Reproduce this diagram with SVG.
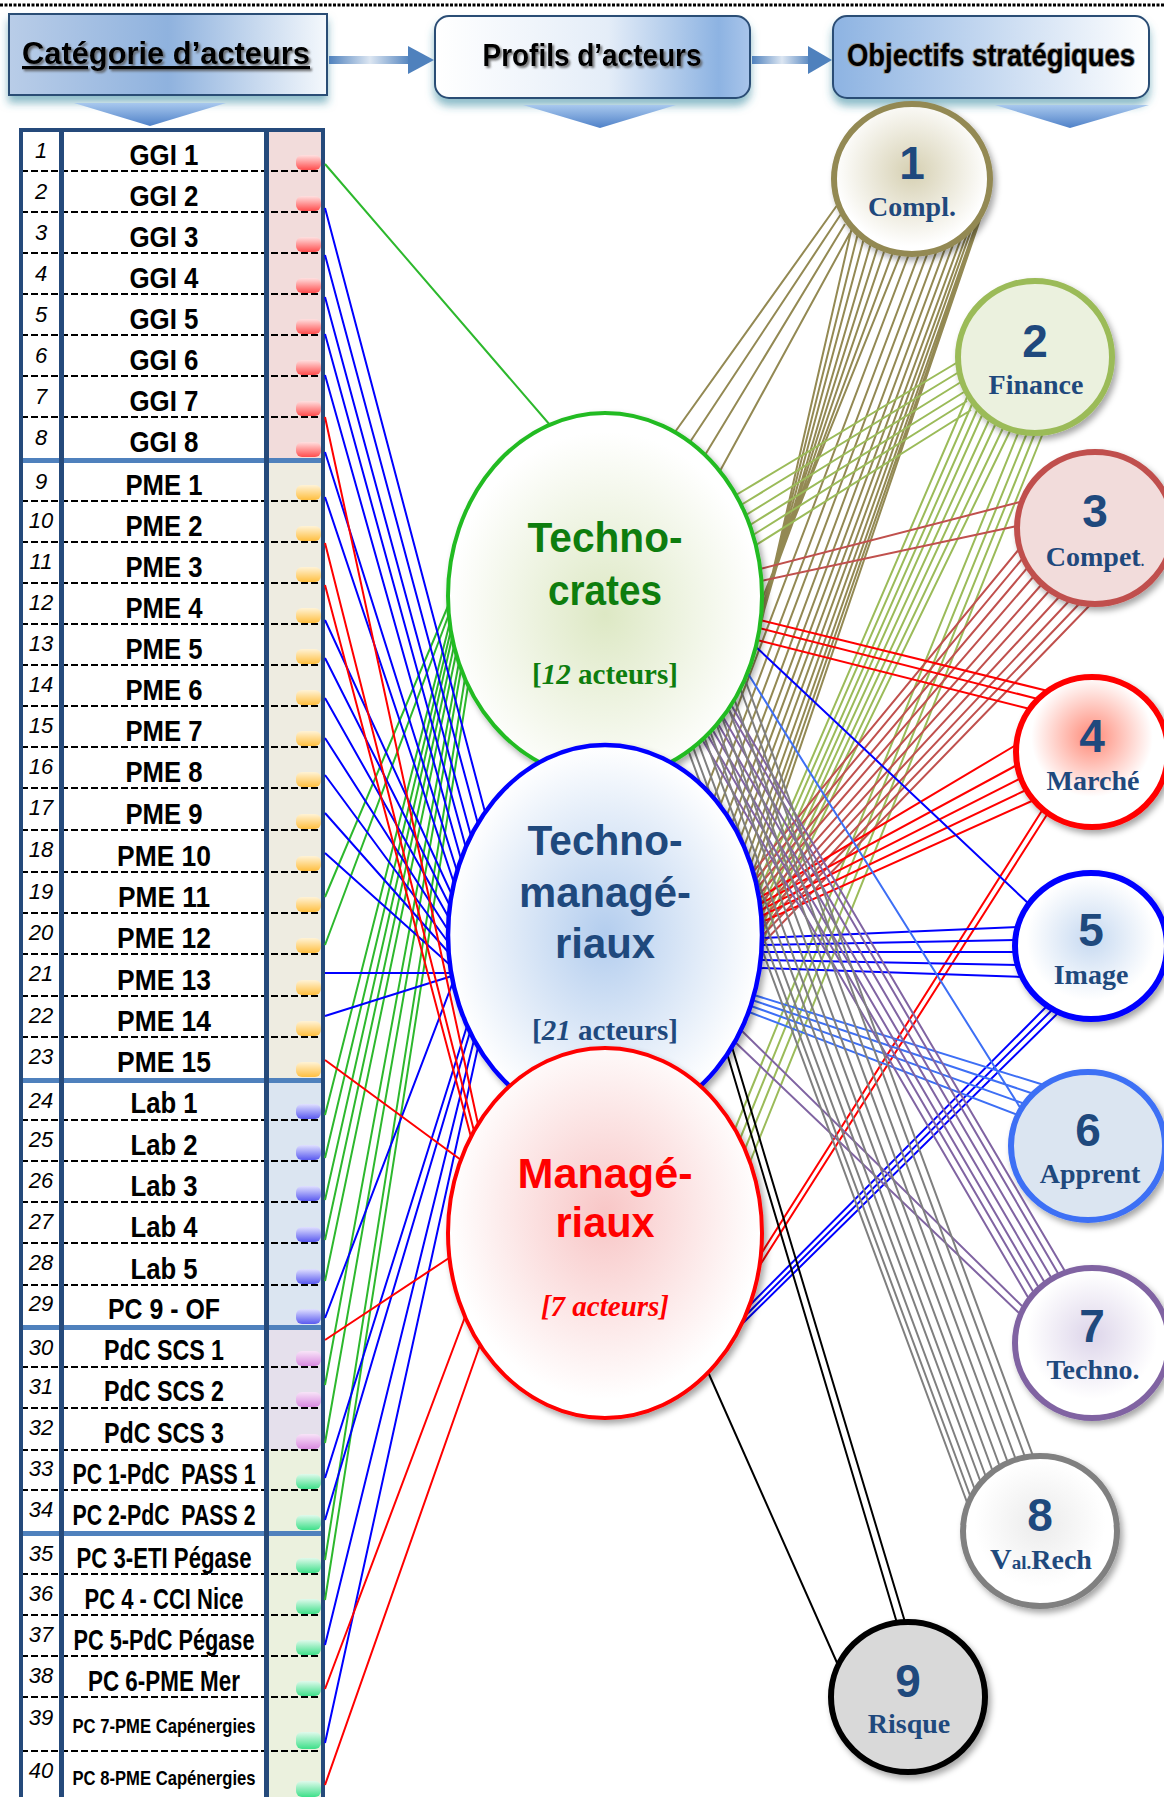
<svg xmlns="http://www.w3.org/2000/svg" width="1164" height="1797" viewBox="0 0 1164 1797">
<defs>
<style>
.num{font-family:"Liberation Sans",Arial,sans-serif;font-style:italic;font-size:22px;fill:#000;text-anchor:middle}
.nm{font-family:"Liberation Sans",Arial,sans-serif;font-weight:bold;font-size:30px;fill:#000;text-anchor:middle}
.sm{font-size:21px}
.dash{stroke:#000;stroke-width:2;stroke-dasharray:7 3}
.sep{fill:#4f81bd}
.hd{font-family:"Liberation Sans",Arial,sans-serif;font-weight:bold;font-size:32px;fill:#000;text-anchor:middle}
.cn path{fill:none;stroke-width:2}
.g{stroke:#2db82d}.b{stroke:#0000ff}.r{stroke:#ff0000}
.ol{stroke:#938953}.fi{stroke:#9bbb59}.co{stroke:#c0504d}.ma{stroke:#ff0000}.im{stroke:#0000ff}.ap{stroke:#3d6ff5}.te{stroke:#8064a2}.va{stroke:#7f7f7f}.ri{stroke:#000}
.onum{font-family:"Liberation Sans",Arial,sans-serif;font-weight:bold;font-size:46px;fill:#1f497d;text-anchor:middle}
.olab{font-family:"Liberation Serif","Times New Roman",serif;font-weight:bold;font-size:28px;fill:#1f497d;text-anchor:middle}
.pt{font-family:"Liberation Sans",Arial,sans-serif;font-weight:bold;font-size:42px;text-anchor:middle}
.pa{font-family:"Liberation Serif","Times New Roman",serif;font-weight:bold;font-size:29px;text-anchor:middle}
</style>
<linearGradient id="h1" x1="0" y1="0" x2="1" y2="0"><stop offset="0" stop-color="#b9cde8"/><stop offset="0.5" stop-color="#8fb2de"/><stop offset="1" stop-color="#f4f8fc"/></linearGradient>
<linearGradient id="h2" x1="0" y1="0" x2="1" y2="0"><stop offset="0" stop-color="#ffffff"/><stop offset="0.55" stop-color="#e4edf8"/><stop offset="0.9" stop-color="#8db3e2"/><stop offset="1" stop-color="#a9c5ea"/></linearGradient>
<linearGradient id="h3" x1="0" y1="0" x2="1" y2="0"><stop offset="0" stop-color="#8db3e2"/><stop offset="1" stop-color="#ffffff"/></linearGradient>
<linearGradient id="chev" x1="0" y1="0" x2="0" y2="1"><stop offset="0" stop-color="#a8c8ee"/><stop offset="1" stop-color="#4f81c8"/></linearGradient>
<linearGradient id="shaft" x1="0" y1="0" x2="1" y2="0"><stop offset="0" stop-color="#4f81bd"/><stop offset="0.5" stop-color="#dce6f2"/><stop offset="1" stop-color="#4f81bd"/></linearGradient>
<linearGradient id="tR" x1="0" y1="0" x2="0" y2="1"><stop offset="0" stop-color="#ffe0e0"/><stop offset="1" stop-color="#ff4d4d"/></linearGradient>
<linearGradient id="tO" x1="0" y1="0" x2="0" y2="1"><stop offset="0" stop-color="#fff3d6"/><stop offset="1" stop-color="#ffbf40"/></linearGradient>
<linearGradient id="tB" x1="0" y1="0" x2="0" y2="1"><stop offset="0" stop-color="#e0e0ff"/><stop offset="1" stop-color="#5a5af0"/></linearGradient>
<linearGradient id="tP" x1="0" y1="0" x2="0" y2="1"><stop offset="0" stop-color="#f8e4f8"/><stop offset="1" stop-color="#d98ae0"/></linearGradient>
<linearGradient id="tG" x1="0" y1="0" x2="0" y2="1"><stop offset="0" stop-color="#e0faec"/><stop offset="1" stop-color="#3ee08a"/></linearGradient>
<radialGradient id="gTech" cx="50%" cy="55%" r="50%"><stop offset="0" stop-color="#dde8c4"/><stop offset="1" stop-color="#ffffff"/></radialGradient>
<radialGradient id="gTM" cx="50%" cy="50%" r="50%"><stop offset="0" stop-color="#b3cdee"/><stop offset="1" stop-color="#ffffff"/></radialGradient>
<radialGradient id="gMg" cx="50%" cy="45%" r="50%"><stop offset="0" stop-color="#f8c6c6"/><stop offset="1" stop-color="#ffffff"/></radialGradient>
<radialGradient id="c1" cx="50%" cy="45%" r="50%"><stop offset="0" stop-color="#d6d0b2"/><stop offset="1" stop-color="#ffffff"/></radialGradient>
<radialGradient id="c4" cx="50%" cy="40%" r="50%"><stop offset="0" stop-color="#ff8a78"/><stop offset="0.8" stop-color="#ffffff"/></radialGradient>
<radialGradient id="c5" cx="50%" cy="45%" r="50%"><stop offset="0" stop-color="#c6d9f1"/><stop offset="0.85" stop-color="#ffffff"/></radialGradient>
<radialGradient id="c7" cx="50%" cy="45%" r="50%"><stop offset="0" stop-color="#ddd5ea"/><stop offset="0.85" stop-color="#ffffff"/></radialGradient>
<radialGradient id="c8" cx="50%" cy="45%" r="50%"><stop offset="0" stop-color="#ebebeb"/><stop offset="0.85" stop-color="#ffffff"/></radialGradient>
<filter id="sh" x="-20%" y="-20%" width="140%" height="140%"><feDropShadow dx="3" dy="4" stdDeviation="3" flood-color="#000" flood-opacity="0.35"/></filter>
<filter id="hsh" x="-10%" y="-20%" width="120%" height="160%"><feDropShadow dx="0" dy="7" stdDeviation="4" flood-color="#31859c" flood-opacity="0.55"/></filter>
<filter id="tsh" x="-10%" y="-50%" width="120%" height="200%"><feDropShadow dx="2" dy="2" stdDeviation="1" flood-color="#555" flood-opacity="0.8"/></filter>
</defs>
<rect width="1164" height="1797" fill="#ffffff"/>
<line x1="0" y1="5" x2="1164" y2="5" stroke="#000" stroke-width="3" stroke-dasharray="3 1.5"/>

<g id="header">
<g id="hdr-categorie">
<rect x="9" y="14" width="318" height="81" fill="url(#h1)" stroke="#2c4d75" stroke-width="2" filter="url(#hsh)"/>
<text class="hd" x="166" y="64" textLength="288" lengthAdjust="spacingAndGlyphs" text-decoration="underline" filter="url(#tsh)">Catégorie d’acteurs</text>
<polygon points="74,103 226,103 150,126" fill="url(#chev)"/>
</g>
<g id="hdr-profils">
<rect x="435" y="16" width="315" height="82" rx="14" fill="url(#h2)" stroke="#2c4d75" stroke-width="2" filter="url(#hsh)"/>
<text class="hd" x="592" y="66" textLength="219" lengthAdjust="spacingAndGlyphs" filter="url(#tsh)">Profils d’acteurs</text>
<polygon points="523,105 676,105 600,128" fill="url(#chev)"/>
</g>
<g id="hdr-objectifs">
<rect x="833" y="16" width="316" height="82" rx="14" fill="url(#h3)" stroke="#2c4d75" stroke-width="2" filter="url(#hsh)"/>
<text class="hd" x="991" y="66" font-size="29" textLength="288" lengthAdjust="spacingAndGlyphs" style="paint-order:stroke" stroke="#9a9a9a" stroke-width="2">Objectifs stratégiques</text>
<polygon points="995,105 1149,105 1070,128" fill="url(#chev)"/>
</g>
<g id="hdr-arrows">
<rect x="329" y="56" width="82" height="8" fill="url(#shaft)"/>
<polygon points="408,46 434,60 408,74" fill="#4f81bd"/>
<rect x="752" y="56" width="60" height="8" fill="url(#shaft)"/>
<polygon points="808,46 832,60 808,74" fill="#4f81bd"/>
</g>
</g>

<g id="table">
<rect x="268" y="130" width="53" height="330" fill="#f2dcdb"/>
<rect x="268" y="460" width="53" height="620" fill="#eeece1"/>
<rect x="268" y="1080" width="53" height="247" fill="#dbe5f1"/>
<rect x="268" y="1327" width="53" height="123" fill="#e5e0ec"/>
<rect x="268" y="1450" width="53" height="350" fill="#ebf1de"/>
<g id="tabs">
<rect x="296" y="155" width="25" height="15" rx="6" fill="url(#tR)"/>
<rect x="296" y="196" width="25" height="15" rx="6" fill="url(#tR)"/>
<rect x="296" y="237" width="25" height="15" rx="6" fill="url(#tR)"/>
<rect x="296" y="278" width="25" height="15" rx="6" fill="url(#tR)"/>
<rect x="296" y="319" width="25" height="15" rx="6" fill="url(#tR)"/>
<rect x="296" y="360" width="25" height="15" rx="6" fill="url(#tR)"/>
<rect x="296" y="401" width="25" height="15" rx="6" fill="url(#tR)"/>
<rect x="296" y="442" width="25" height="15" rx="6" fill="url(#tR)"/>
<rect x="296" y="485" width="25" height="15" rx="6" fill="url(#tO)"/>
<rect x="296" y="526" width="25" height="15" rx="6" fill="url(#tO)"/>
<rect x="296" y="567" width="25" height="15" rx="6" fill="url(#tO)"/>
<rect x="296" y="608" width="25" height="15" rx="6" fill="url(#tO)"/>
<rect x="296" y="649" width="25" height="15" rx="6" fill="url(#tO)"/>
<rect x="296" y="690" width="25" height="15" rx="6" fill="url(#tO)"/>
<rect x="296" y="731" width="25" height="15" rx="6" fill="url(#tO)"/>
<rect x="296" y="772" width="25" height="15" rx="6" fill="url(#tO)"/>
<rect x="296" y="814" width="25" height="15" rx="6" fill="url(#tO)"/>
<rect x="296" y="856" width="25" height="15" rx="6" fill="url(#tO)"/>
<rect x="296" y="897" width="25" height="15" rx="6" fill="url(#tO)"/>
<rect x="296" y="938" width="25" height="15" rx="6" fill="url(#tO)"/>
<rect x="296" y="980" width="25" height="15" rx="6" fill="url(#tO)"/>
<rect x="296" y="1021" width="25" height="15" rx="6" fill="url(#tO)"/>
<rect x="296" y="1062" width="25" height="15" rx="6" fill="url(#tO)"/>
<rect x="296" y="1104" width="25" height="15" rx="6" fill="url(#tB)"/>
<rect x="296" y="1145" width="25" height="15" rx="6" fill="url(#tB)"/>
<rect x="296" y="1186" width="25" height="15" rx="6" fill="url(#tB)"/>
<rect x="296" y="1227" width="25" height="15" rx="6" fill="url(#tB)"/>
<rect x="296" y="1269" width="25" height="15" rx="6" fill="url(#tB)"/>
<rect x="296" y="1309" width="25" height="15" rx="6" fill="url(#tB)"/>
<rect x="296" y="1351" width="25" height="15" rx="6" fill="url(#tP)"/>
<rect x="296" y="1392" width="25" height="15" rx="6" fill="url(#tP)"/>
<rect x="296" y="1434" width="25" height="15" rx="6" fill="url(#tP)"/>
<rect x="296" y="1474" width="25" height="15" rx="6" fill="url(#tG)"/>
<rect x="296" y="1515" width="25" height="15" rx="6" fill="url(#tG)"/>
<rect x="296" y="1558" width="25" height="15" rx="6" fill="url(#tG)"/>
<rect x="296" y="1599" width="25" height="15" rx="6" fill="url(#tG)"/>
<rect x="296" y="1640" width="25" height="15" rx="6" fill="url(#tG)"/>
<rect x="296" y="1681" width="25" height="15" rx="6" fill="url(#tG)"/>
<rect x="296" y="1732" width="25" height="17" rx="6" fill="url(#tG)"/>
<rect x="296" y="1781" width="25" height="16" rx="6" fill="url(#tG)"/>
</g>
<g id="row-lines">
<path class="dash" d="M21,171H323M21,212H323M21,253H323M21,294H323M21,335H323M21,376H323M21,417H323M21,501H323M21,542H323M21,583H323M21,624H323M21,665H323M21,706H323M21,747H323M21,788H323M21,830H323M21,872H323M21,913H323M21,954H323M21,996H323M21,1037H323M21,1120H323M21,1161H323M21,1202H323M21,1243H323M21,1285H323M21,1367H323M21,1408H323M21,1450H323M21,1490H323M21,1574H323M21,1615H323M21,1656H323M21,1697H323M21,1751H323"/>
<rect class="sep" x="21" y="458" width="302" height="5"/>
<rect class="sep" x="21" y="1078" width="302" height="5"/>
<rect class="sep" x="21" y="1325" width="302" height="5"/>
<rect class="sep" x="21" y="1531" width="302" height="5"/>
<rect x="59" y="130" width="5" height="1670" fill="#254a7b"/>
<rect x="264" y="130" width="5" height="1670" fill="#254a7b"/>
<rect x="21" y="130" width="302" height="1675" fill="none" stroke="#254a7b" stroke-width="4"/>
</g>
<g id="row-1"><text class="num" x="41" y="158">1</text><text class="nm" x="164" y="165" textLength="69" lengthAdjust="spacingAndGlyphs">GGI 1</text></g>
<g id="row-2"><text class="num" x="41" y="199">2</text><text class="nm" x="164" y="206" textLength="69" lengthAdjust="spacingAndGlyphs">GGI 2</text></g>
<g id="row-3"><text class="num" x="41" y="240">3</text><text class="nm" x="164" y="247" textLength="69" lengthAdjust="spacingAndGlyphs">GGI 3</text></g>
<g id="row-4"><text class="num" x="41" y="281">4</text><text class="nm" x="164" y="288" textLength="69" lengthAdjust="spacingAndGlyphs">GGI 4</text></g>
<g id="row-5"><text class="num" x="41" y="322">5</text><text class="nm" x="164" y="329" textLength="69" lengthAdjust="spacingAndGlyphs">GGI 5</text></g>
<g id="row-6"><text class="num" x="41" y="363">6</text><text class="nm" x="164" y="370" textLength="69" lengthAdjust="spacingAndGlyphs">GGI 6</text></g>
<g id="row-7"><text class="num" x="41" y="404">7</text><text class="nm" x="164" y="411" textLength="69" lengthAdjust="spacingAndGlyphs">GGI 7</text></g>
<g id="row-8"><text class="num" x="41" y="445">8</text><text class="nm" x="164" y="452" textLength="69" lengthAdjust="spacingAndGlyphs">GGI 8</text></g>
<g id="row-9"><text class="num" x="41" y="489">9</text><text class="nm" x="164" y="495" textLength="77" lengthAdjust="spacingAndGlyphs">PME 1</text></g>
<g id="row-10"><text class="num" x="41" y="528">10</text><text class="nm" x="164" y="536" textLength="77" lengthAdjust="spacingAndGlyphs">PME 2</text></g>
<g id="row-11"><text class="num" x="41" y="569">11</text><text class="nm" x="164" y="577" textLength="77" lengthAdjust="spacingAndGlyphs">PME 3</text></g>
<g id="row-12"><text class="num" x="41" y="610">12</text><text class="nm" x="164" y="618" textLength="77" lengthAdjust="spacingAndGlyphs">PME 4</text></g>
<g id="row-13"><text class="num" x="41" y="651">13</text><text class="nm" x="164" y="659" textLength="77" lengthAdjust="spacingAndGlyphs">PME 5</text></g>
<g id="row-14"><text class="num" x="41" y="692">14</text><text class="nm" x="164" y="700" textLength="77" lengthAdjust="spacingAndGlyphs">PME 6</text></g>
<g id="row-15"><text class="num" x="41" y="733">15</text><text class="nm" x="164" y="741" textLength="77" lengthAdjust="spacingAndGlyphs">PME 7</text></g>
<g id="row-16"><text class="num" x="41" y="774">16</text><text class="nm" x="164" y="782" textLength="77" lengthAdjust="spacingAndGlyphs">PME 8</text></g>
<g id="row-17"><text class="num" x="41" y="815">17</text><text class="nm" x="164" y="824" textLength="77" lengthAdjust="spacingAndGlyphs">PME 9</text></g>
<g id="row-18"><text class="num" x="41" y="857">18</text><text class="nm" x="164" y="866" textLength="94" lengthAdjust="spacingAndGlyphs">PME 10</text></g>
<g id="row-19"><text class="num" x="41" y="899">19</text><text class="nm" x="164" y="907" textLength="92" lengthAdjust="spacingAndGlyphs">PME 11</text></g>
<g id="row-20"><text class="num" x="41" y="940">20</text><text class="nm" x="164" y="948" textLength="94" lengthAdjust="spacingAndGlyphs">PME 12</text></g>
<g id="row-21"><text class="num" x="41" y="981">21</text><text class="nm" x="164" y="990" textLength="94" lengthAdjust="spacingAndGlyphs">PME 13</text></g>
<g id="row-22"><text class="num" x="41" y="1023">22</text><text class="nm" x="164" y="1031" textLength="94" lengthAdjust="spacingAndGlyphs">PME 14</text></g>
<g id="row-23"><text class="num" x="41" y="1064">23</text><text class="nm" x="164" y="1072" textLength="94" lengthAdjust="spacingAndGlyphs">PME 15</text></g>
<g id="row-24"><text class="num" x="41" y="1108">24</text><text class="nm" x="164" y="1113" textLength="67" lengthAdjust="spacingAndGlyphs">Lab 1</text></g>
<g id="row-25"><text class="num" x="41" y="1147">25</text><text class="nm" x="164" y="1155" textLength="67" lengthAdjust="spacingAndGlyphs">Lab 2</text></g>
<g id="row-26"><text class="num" x="41" y="1188">26</text><text class="nm" x="164" y="1196" textLength="67" lengthAdjust="spacingAndGlyphs">Lab 3</text></g>
<g id="row-27"><text class="num" x="41" y="1229">27</text><text class="nm" x="164" y="1237" textLength="67" lengthAdjust="spacingAndGlyphs">Lab 4</text></g>
<g id="row-28"><text class="num" x="41" y="1270">28</text><text class="nm" x="164" y="1279" textLength="67" lengthAdjust="spacingAndGlyphs">Lab 5</text></g>
<g id="row-29"><text class="num" x="41" y="1311">29</text><text class="nm" x="164" y="1319" textLength="112" lengthAdjust="spacingAndGlyphs">PC 9 - OF</text></g>
<g id="row-30"><text class="num" x="41" y="1355">30</text><text class="nm" x="164" y="1360" textLength="120" lengthAdjust="spacingAndGlyphs">PdC SCS 1</text></g>
<g id="row-31"><text class="num" x="41" y="1394">31</text><text class="nm" x="164" y="1401" textLength="120" lengthAdjust="spacingAndGlyphs">PdC SCS 2</text></g>
<g id="row-32"><text class="num" x="41" y="1435">32</text><text class="nm" x="164" y="1443" textLength="120" lengthAdjust="spacingAndGlyphs">PdC SCS 3</text></g>
<g id="row-33"><text class="num" x="41" y="1476">33</text><text class="nm" x="164" y="1484" textLength="183" lengthAdjust="spacingAndGlyphs">PC 1-PdC&#160; PASS 1</text></g>
<g id="row-34"><text class="num" x="41" y="1517">34</text><text class="nm" x="164" y="1525" textLength="183" lengthAdjust="spacingAndGlyphs">PC 2-PdC&#160; PASS 2</text></g>
<g id="row-35"><text class="num" x="41" y="1561">35</text><text class="nm" x="164" y="1568" textLength="175" lengthAdjust="spacingAndGlyphs">PC 3-ETI Pégase</text></g>
<g id="row-36"><text class="num" x="41" y="1601">36</text><text class="nm" x="164" y="1609" textLength="159" lengthAdjust="spacingAndGlyphs">PC 4 - CCI Nice</text></g>
<g id="row-37"><text class="num" x="41" y="1642">37</text><text class="nm" x="164" y="1650" textLength="181" lengthAdjust="spacingAndGlyphs">PC 5-PdC Pégase</text></g>
<g id="row-38"><text class="num" x="41" y="1683">38</text><text class="nm" x="164" y="1691" textLength="152" lengthAdjust="spacingAndGlyphs">PC 6-PME Mer</text></g>
<g id="row-39"><text class="num" x="41" y="1725">39</text><text class="nm sm" x="164" y="1733" textLength="183" lengthAdjust="spacingAndGlyphs">PC 7-PME Capénergies</text></g>
<g id="row-40"><text class="num" x="41" y="1778">40</text><text class="nm sm" x="164" y="1785" textLength="183" lengthAdjust="spacingAndGlyphs">PC 8-PME Capénergies</text></g>
</g>

<g id="connectors" class="cn">
<path class="g" d="M325,164L550,425M325,897L448,606M325,945L449,614M325,1115L450,622M325,1158L451,630M325,1200L452,638M325,1240L454,646M325,1281L456,654M325,1385L459,662M325,1443L461,670M325,1560L465,678M325,1600L468,686"/>
<path class="b" d="M325,208L485,812M325,255L478,824M325,297L471,836M325,334L466,848M325,375L461,859M325,452L457,871M325,497L454,883M325,620L452,895M325,658L450,906M325,698L449,918M325,738L448,930M325,775L448,942M325,813L449,953M325,853L450,965M325,973L451,973M325,1016L452,976M325,1318L453,982M325,1478L467,1026M325,1520L470,1032M325,1645L474,1040M325,1743L478,1047"/>
<path class="r" d="M325,417L478,1124M325,543L474,1131M325,585L471,1137M325,1060L461,1160M325,1340L449,1258M325,1689L465,1317M325,1785L480,1345"/>
<path class="ol" d="M838,204L675,432M841,214L690,442M845,224L705,455M850,233L720,471M852,227L755,650M858,233L751,662M864,238L747,674M871,243L742,686M878,246L735,698M885,249L728,710M893,252L719,722M901,253L708,734M909,254L706,790M919,254L714,798M928,252L720,806M937,250L727,815M946,246L732,823M954,242L736,831M962,236L740,839M968,231L744,847M973,225L748,856M978,219L751,864M982,212L753,872M985,205L755,880"/>
<path class="fi" d="M958,362L736,495M959,372L741,505M961,382L746,515M964,392L750,525M967,401L753,535M971,410L756,545M968,395L757,886M973,402L758,894M978,408L760,902M983,413L761,910M990,418L761,918M996,423L762,926M1004,426L762,934M1011,429L762,942M1019,431L735,1129M1027,433L740,1139M1035,433L745,1149M1043,433L750,1162"/>
<path class="co" d="M1020,502L760,569M1017,526L761,581M1020,548L753,872M1023,558L755,880M1028,567L757,888M1034,576L758,896M1042,584L760,904M1050,590L761,912M1060,596L761,920M1070,600L762,928M1080,603L762,936M1091,604L762,944"/>
<path class="ma" d="M760,620L1048,691M759,628L1038,699M757,640L1030,709M1016,745L759,898M1017,765L760,904M1021,778L761,910M1026,790L761,916M1034,800L762,922M1043,809L761,1254M1048,813L760,1265"/>
<path class="im" d="M755,646L1029,904M762,938L1018,927M762,945L1015,940M761,952L1015,952M761,960L1018,965M760,968L1022,977M1047,1006L750,1305M1053,1009L746,1315M1059,1012L742,1324"/>
<path class="ap" d="M747,672L1021,1109M754,995L1044,1085M752,1000L1034,1094M751,1006L1025,1104M749,1012L1018,1115"/>
<path class="te" d="M730,703L1066,1273M726,705L1059,1275M716,705L1052,1279M707,705L1045,1283M698,705L1039,1288M690,705L1034,1293M682,705L1029,1299M741,1030L1022,1306M735,1042L1019,1313"/>
<path class="va" d="M651,650L968,1505M657,650L971,1498M664,650L975,1490M672,650L981,1483M680,650L986,1477M689,650L993,1472M697,650L1000,1467M707,650L1008,1463M716,650L1016,1460M726,650L1025,1457M734,650L1033,1456"/>
<path class="ri" d="M723,1040L897,1623M729,1037L905,1622M708,1372L838,1665"/>
</g>

<g id="profil-technocrates">
<ellipse cx="605" cy="596" rx="157" ry="183" fill="url(#gTech)" stroke="#22bb22" stroke-width="4" filter="url(#sh)"/>
<text class="pt" x="605" y="552" fill="#0e7d0e" textLength="155" lengthAdjust="spacingAndGlyphs">Techno-</text>
<text class="pt" x="605" y="605" fill="#0e7d0e" textLength="114" lengthAdjust="spacingAndGlyphs">crates</text>
<text class="pa" x="605" y="684" fill="#0e7d0e">[<tspan font-style="italic">12</tspan> acteurs]</text>
</g>
<g id="profil-technomanageriaux">
<ellipse cx="605" cy="935" rx="157" ry="190" fill="url(#gTM)" stroke="#0000ff" stroke-width="4.5" filter="url(#sh)"/>
<text class="pt" x="605" y="855" fill="#1f497d" textLength="155" lengthAdjust="spacingAndGlyphs">Techno-</text>
<text class="pt" x="605" y="907" fill="#1f497d" textLength="172" lengthAdjust="spacingAndGlyphs">managé-</text>
<text class="pt" x="605" y="958" fill="#1f497d" textLength="100" lengthAdjust="spacingAndGlyphs">riaux</text>
<text class="pa" x="605" y="1040" fill="#1f497d">[<tspan font-style="italic">21</tspan> acteurs]</text>
</g>
<g id="profil-manageriaux">
<ellipse cx="605" cy="1233" rx="157" ry="185" fill="url(#gMg)" stroke="#ff0000" stroke-width="4" filter="url(#sh)"/>
<text class="pt" x="605" y="1188" fill="#ff0000" textLength="175" lengthAdjust="spacingAndGlyphs">Managé-</text>
<text class="pt" x="605" y="1237" fill="#ff0000" textLength="99" lengthAdjust="spacingAndGlyphs">riaux</text>
<text class="pa" x="605" y="1316" fill="#ff0000" font-style="italic">[7 acteurs]</text>
</g>

<g id="obj-1"><ellipse cx="912" cy="179" rx="78" ry="75" fill="url(#c1)" stroke="#938953" stroke-width="6" filter="url(#sh)"/><text class="onum" x="912" y="179">1</text><text class="olab" x="912" y="216">Compl.</text></g>
<g id="obj-2"><ellipse cx="1035" cy="357" rx="77" ry="76" fill="#ebf1de" stroke="#9bbb59" stroke-width="6" filter="url(#sh)"/><text class="onum" x="1035" y="357">2</text><text class="olab" x="1036" y="394">Finance</text></g>
<g id="obj-3"><ellipse cx="1095" cy="528" rx="78" ry="76" fill="#f2dcdb" stroke="#c0504d" stroke-width="6" filter="url(#sh)"/><text class="onum" x="1095" y="527">3</text><text class="olab" x="1095" y="566">Compet<tspan font-size="14">.</tspan></text></g>
<g id="obj-4"><ellipse cx="1092" cy="752" rx="76" ry="75" fill="url(#c4)" stroke="#ff0000" stroke-width="6" filter="url(#sh)"/><text class="onum" x="1092" y="752">4</text><text class="olab" x="1093" y="790">Marché</text></g>
<g id="obj-5"><ellipse cx="1091" cy="946" rx="76" ry="73" fill="url(#c5)" stroke="#0000ff" stroke-width="6" filter="url(#sh)"/><text class="onum" x="1091" y="946">5</text><text class="olab" x="1091" y="984" font-size="30">Image</text></g>
<g id="obj-6"><ellipse cx="1088" cy="1146" rx="77" ry="74" fill="#dbe5f1" stroke="#3d6ff5" stroke-width="6" filter="url(#sh)"/><text class="onum" x="1088" y="1146">6</text><text class="olab" x="1090" y="1183">Apprent</text></g>
<g id="obj-7"><ellipse cx="1092" cy="1343" rx="77" ry="75" fill="url(#c7)" stroke="#8064a2" stroke-width="6" filter="url(#sh)"/><text class="onum" x="1092" y="1342">7</text><text class="olab" x="1093" y="1379">Techno.</text></g>
<g id="obj-8"><ellipse cx="1040" cy="1531" rx="77" ry="75" fill="url(#c8)" stroke="#808080" stroke-width="6" filter="url(#sh)"/><text class="onum" x="1040" y="1531">8</text><text class="olab" x="1041" y="1569"><tspan font-size="30">V</tspan><tspan font-size="19">al.</tspan>Rech</text></g>
<g id="obj-9"><ellipse cx="908" cy="1697" rx="77" ry="75" fill="#d9d9d9" stroke="#000000" stroke-width="6" filter="url(#sh)"/><text class="onum" x="908" y="1697">9</text><text class="olab" x="909" y="1733" font-size="31">Risque</text></g>
</svg>
